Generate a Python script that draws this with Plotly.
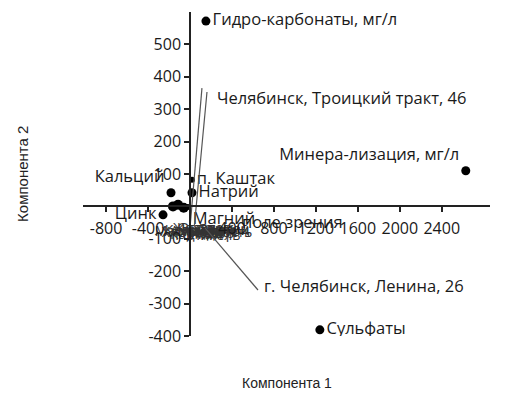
import plotly.graph_objects as go

# Variable loadings / sample scores on the first two principal components
var_names = ["Гидро-карбонаты, мг/л", "Минера-лизация, мг/л", "Сульфаты",
             "Кальций", "Натрий", "Цинк"]
var_x = [152, 2629, 1238, -181, 19, -257]
var_y = [572, 110, -381, 42, 42, -26]
var_pos = ["middle right", "top left", "middle right",
           "top left", "middle right", "middle left"]

# Unlabelled scores near the origin
extra_x = [-162, -114, -60]
extra_y = [0, 5, -4]

# Small sample points with labels
site_names = ["п. Каштак", "Магний"]
site_x = [19, -20]
site_y = [82, -2]
site_pos = ["middle right", "bottom right"]

# Crowded labels around the origin
crowd_names = ["Калий", "Хлориды", "Железо", "Медь", "Нитраты",
               "Жесткость", "Свинец", "Марганец", "Кадмий", "Аммоний",
               "Фториды", "Никель", "Бор", "Литий"]
crowd_x = [-40, 20, 80, 140, 200, 260, 320, -10, 60, 120, 180, 240, 300, 360]
crowd_y = [-76, -84, -72, -88, -78, -84, -74, -82, -90, -80, -70, -92, -86, -78]

# Leader-line labels: anchor point, then label end point
lead_x = [0, 40, 143]
lead_y = [-66, -66, -66]
lead_tx = [114, 162, 648]
lead_ty = [365, 353, -258]

# Displaced label texts and their positions
note_text = ["Челябинск, Троицкий тракт, 46", "г. Челябинск, Ленина, 26",
             "поле зрения"]
note_x = [238, 686, 476]
note_y = [335, -245, -48]

x_ticks = [-800, -400, 400, 800, 1200, 1600, 2000, 2400]
y_ticks = [-400, -300, -200, -100, 100, 200, 300, 400, 500]

x_range = [-1020, 2860]
y_range = [-400, 600]

FONT = "Open Sans, DejaVu Sans, sans-serif"
label_font = dict(family=FONT, size=16.5, color="#1a1a1a")
tick_font = dict(family=FONT, size=16, color="#1a1a1a")

fig = go.Figure()

fig.add_trace(go.Scatter(
    x=crowd_x, y=crowd_y, mode="text", text=crowd_names,
    textposition="middle center",
    textfont=dict(family=FONT, size=14, color="#333"),
    hoverinfo="skip"))

fig.add_trace(go.Scatter(
    x=extra_x, y=extra_y, mode="markers",
    marker=dict(color="black", size=10), hoverinfo="skip"))

fig.add_trace(go.Scatter(
    x=var_x, y=var_y, mode="markers+text", text=var_names,
    textposition=var_pos, textfont=label_font,
    marker=dict(color="black", size=9)))

fig.add_trace(go.Scatter(
    x=site_x, y=site_y, mode="markers+text", text=site_names,
    textposition=site_pos, textfont=label_font,
    marker=dict(color="black", size=6)))

# Leader lines from each point to its displaced label
for ax_, ay_, tx, ty in zip(lead_x, lead_y, lead_tx, lead_ty):
    fig.add_trace(go.Scatter(
        x=[ax_, tx], y=[ay_, ty], mode="lines",
        line=dict(color="#555", width=1.2), hoverinfo="skip"))

for t, lx, ly in zip(note_text, note_x, note_y):
    fig.add_annotation(x=lx, y=ly, text=t, showarrow=False,
                       xanchor="left", yanchor="middle", font=label_font)

fig.update_layout(
    width=505, height=395,
    margin=dict(l=83, r=15, t=12, b=59),
    paper_bgcolor="white", plot_bgcolor="white",
    showlegend=False,
    xaxis=dict(
        range=x_range, tickvals=x_ticks, ticktext=[str(v) for v in x_ticks],
        showgrid=False, zeroline=False, showline=True,
        linecolor="#222", linewidth=1.5, ticks="outside", ticklen=5,
        tickcolor="#222", tickwidth=1.5, ticklabelstandoff=3,
        anchor="free",
        position=(0 - y_range[0]) / (y_range[1] - y_range[0]),
        tickfont=tick_font),
    yaxis=dict(
        range=y_range, tickvals=y_ticks, ticktext=[str(v) for v in y_ticks],
        showgrid=False, zeroline=False, showline=True,
        linecolor="#222", linewidth=1.5, ticks="outside", ticklen=5,
        tickcolor="#222", tickwidth=1.5,
        anchor="free",
        position=(0 - x_range[0]) / (x_range[1] - x_range[0]),
        tickfont=tick_font),
)

fig.add_annotation(xref="paper", yref="paper", x=0.5, y=-0.145,
                   text="Компонента 1", showarrow=False, yanchor="middle",
                   font=dict(family="Liberation Sans, Arial, sans-serif",
                             size=14, color="#222"))
fig.add_annotation(xref="paper", yref="paper", x=-0.15, y=0.5,
                   text="Компонента 2", showarrow=False, textangle=-90,
                   xanchor="center", yanchor="middle",
                   font=dict(family="Liberation Sans, Arial, sans-serif",
                             size=15, color="#222"))

fig.write_html("out.html")
